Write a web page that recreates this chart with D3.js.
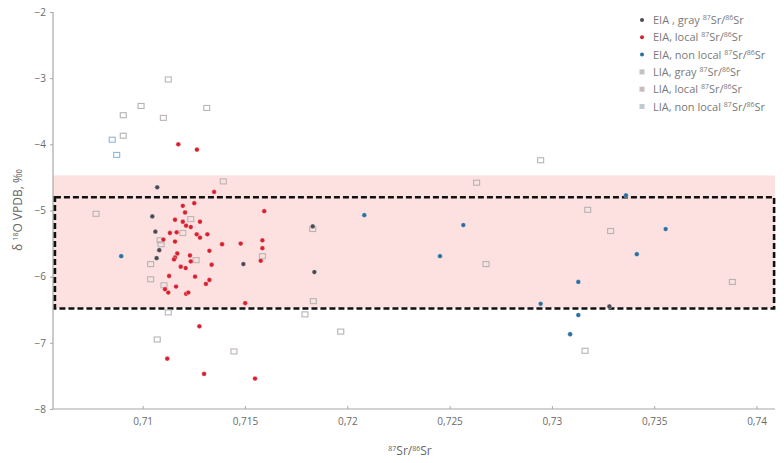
<!DOCTYPE html>
<html><head><meta charset="utf-8">
<script src="https://cdn.jsdelivr.net/npm/d3@7"></script>
<style>
html,body{margin:0;padding:0;background:#fff;}
text{font-family:"Open Sans",sans-serif;}
</style></head>
<body><svg id="c" width="784" height="463"></svg>
<script>
// ---- data ----
const xTicks = [0.71, 0.715, 0.72, 0.725, 0.73, 0.735, 0.74];
const xTickLabels = ["0,71", "0,715", "0,72", "0,725", "0,73", "0,735", "0,74"];
const yTicks = [-2, -3, -4, -5, -6, -7, -8];
const yTickLabels = ["\u22122", "\u22123", "\u22124", "\u22125", "\u22126", "\u22127", "\u22128"];

const eiaGray = [[0.71071,-4.65],[0.71047,-5.09],[0.71062,-5.32],[0.71081,-5.60],[0.71068,-5.72],
  [0.71492,-5.81],[0.71831,-5.24],[0.71839,-5.93],[0.73281,-6.45]];
const eiaLocal = [[0.71174,-4.00],[0.71265,-4.08],[0.71349,-4.72],[0.71252,-4.89],[0.71196,-4.93],
  [0.71207,-5.03],[0.71594,-5.01],[0.71158,-5.14],[0.71196,-5.17],[0.7128,-5.17],[0.71212,-5.23],
  [0.71235,-5.25],[0.71133,-5.34],[0.71166,-5.33],[0.71264,-5.36],[0.7128,-5.41],[0.71316,-5.36],
  [0.71101,-5.44],[0.71158,-5.47],[0.71388,-5.51],[0.71479,-5.50],[0.71585,-5.45],[0.71585,-5.57],
  [0.71326,-5.61],[0.71169,-5.65],[0.71158,-5.71],[0.71231,-5.68],[0.71153,-5.74],[0.71235,-5.77],
  [0.71577,-5.76],[0.71337,-5.82],[0.71186,-5.85],[0.7121,-5.87],[0.71129,-5.99],[0.71256,-6.00],
  [0.71326,-6.05],[0.71309,-6.11],[0.71163,-6.15],[0.71109,-6.19],[0.71125,-6.24],[0.71212,-6.26],
  [0.71223,-6.24],[0.71501,-6.40],[0.71277,-6.75],[0.7112,-7.24],[0.713,-7.47],[0.71549,-7.54]];
const eiaNonLocal = [[0.70895,-5.69],[0.72083,-5.07],[0.72567,-5.22],[0.72453,-5.69],[0.73362,-4.77],
  [0.73556,-5.28],[0.73415,-5.66],[0.73129,-6.08],[0.72945,-6.41],[0.73129,-6.58],[0.73089,-6.87]];
const liaGray = [[0.70992,-3.42],[0.70905,-3.56],[0.70905,-3.87],[0.70772,-5.05],[0.71085,-5.45],
  [0.7109,-5.51],[0.71039,-5.81],[0.71039,-6.04],[0.71125,-6.54],[0.71071,-6.95],[0.71831,-5.28],
  [0.71834,-6.37],[0.71793,-6.57],[0.71968,-6.83],[0.72632,-4.58],[0.72678,-5.81],[0.72945,-4.24],
  [0.73175,-4.99],[0.73287,-5.31],[0.73882,-6.08],[0.73162,-7.12]];
const liaLocal = [[0.71125,-3.02],[0.71313,-3.45],[0.71101,-3.60],[0.71394,-4.56],[0.71235,-5.13],
  [0.71196,-5.34],[0.71261,-5.75],[0.71585,-5.69],[0.71104,-6.13],[0.71446,-7.13]];
const liaNonLocal = [[0.70851,-3.93],[0.70873,-4.16]];

const bandRange = [-4.47, -6.48];
const boxRange = [-4.8, -6.48];
const boxX = [0.70571, 0.74086];

const legendLabels = ["EIA , gray", "EIA, local", "EIA, non local", "LIA, gray", "LIA, local", "LIA, non local"];

// ---- drawing ----
const svg = d3.select("#c");
const x = d3.scaleLinear().domain([0.705616, 0.740904]).range([53, 775]);
const y = d3.scaleLinear().domain([-8, -2]).range([409, 12]);

// pink band
svg.append("rect").attr("x", x(0.705616)).attr("width", x(0.740904) - x(0.705616))
  .attr("y", y(bandRange[0])).attr("height", y(bandRange[1]) - y(bandRange[0]))
  .attr("fill", "#fde0e0");

// axes
const axisColor = "#a8a8a8";
const gy = svg.append("g").attr("transform", "translate(53,0)")
  .call(d3.axisLeft(y).tickValues(yTicks).tickFormat((d, i) => yTickLabels[i]).tickSize(3).tickPadding(4));
const gx = svg.append("g").attr("transform", "translate(0,409)")
  .call(d3.axisBottom(x).tickValues(xTicks).tickFormat((d, i) => xTickLabels[i]).tickSize(-3).tickPadding(9));
[gx, gy].forEach(g => {
  g.select(".domain").attr("stroke", axisColor).attr("stroke-width", 1.2);
  g.selectAll(".tick line").attr("stroke", axisColor);
  g.selectAll(".tick text").attr("fill", "#6a6a6a").style("font-size", "10px").style("font-family", "'Open Sans',sans-serif");
});
gy.select(".domain").attr("d", `M0,${y(-8)}V${y(-2)}`);
gx.select(".domain").attr("d", `M${x(0.705616)},0H${x(0.740904)}`);

// dashed box
svg.append("rect").attr("x", x(boxX[0])).attr("width", x(boxX[1]) - x(boxX[0]))
  .attr("y", y(boxRange[0])).attr("height", y(boxRange[1]) - y(boxRange[0]))
  .attr("fill", "none").attr("stroke", "#111").attr("stroke-width", 2.6).attr("stroke-dasharray", "6,3");

// squares (LIA)
function squares(data, color) {
  svg.append("g").selectAll("rect").data(data).join("rect")
    .attr("x", d => x(d[0]) - 3).attr("y", d => y(d[1]) - 2.5)
    .attr("width", 6).attr("height", 5)
    .attr("fill", "none").attr("stroke", color).attr("stroke-width", 1.1);
}
squares(liaGray, "#b4b4b4");
squares(liaLocal, "#bdb4b4");
squares(liaNonLocal, "#8fb6d6");

// circles (EIA)
function circles(data, color) {
  svg.append("g").selectAll("circle").data(data).join("circle")
    .attr("cx", d => x(d[0])).attr("cy", d => y(d[1])).attr("r", 2.4)
    .attr("fill", color).attr("stroke", "#fff").attr("stroke-width", 0.6).attr("stroke-opacity", 0.6);
}
circles(eiaGray, "#4a4a52");
circles(eiaLocal, "#d8202e");
circles(eiaNonLocal, "#2b6f9e");

// axis titles
const xt = svg.append("text").attr("x", 410).attr("y", 455).attr("text-anchor", "middle")
  .attr("fill", "#666").style("font-size", "12px");
xt.append("tspan").text("87").attr("dy", "-4").style("font-size", "7px");
xt.append("tspan").text("Sr/").attr("dy", "4");
xt.append("tspan").text("86").attr("dy", "-4").style("font-size", "7px");
xt.append("tspan").text("Sr").attr("dy", "4");

const yt = svg.append("text").attr("transform", "translate(22,210) rotate(-90)").attr("text-anchor", "middle")
  .attr("fill", "#666").style("font-size", "12px");
yt.append("tspan").text("\u03b4 ");
yt.append("tspan").text("18").attr("dy", "-4").style("font-size", "7px");
yt.append("tspan").text("O VPDB, \u2030").attr("dy", "4");

// legend
const legendMarks = [
  {shape: "c", color: "#4a4a52"}, {shape: "c", color: "#d8202e"}, {shape: "c", color: "#2b6f9e"},
  {shape: "s", color: "#c2c2c2"}, {shape: "s", color: "#c6bebe"}, {shape: "s", color: "#c0c8d0"}];
const lg = svg.append("g");
legendLabels.forEach((lab, i) => {
  const yy = 20 + i * 17.3;
  const m = legendMarks[i];
  if (m.shape === "c") lg.append("circle").attr("cx", 642).attr("cy", yy).attr("r", 2).attr("fill", m.color);
  else lg.append("rect").attr("x", 639.5).attr("y", yy - 2.5).attr("width", 5).attr("height", 5).attr("fill", m.color);
  const t = lg.append("text").attr("x", 653).attr("y", yy + 4).attr("fill", "#7a7a7a").style("font-size", "11px");
  t.append("tspan").text(lab + " ");
  t.append("tspan").text("87").attr("dy", "-4").style("font-size", "7px");
  t.append("tspan").text("Sr/").attr("dy", "4");
  t.append("tspan").text("86").attr("dy", "-4").style("font-size", "7px");
  t.append("tspan").text("Sr").attr("dy", "4");
});
</script></body></html>
